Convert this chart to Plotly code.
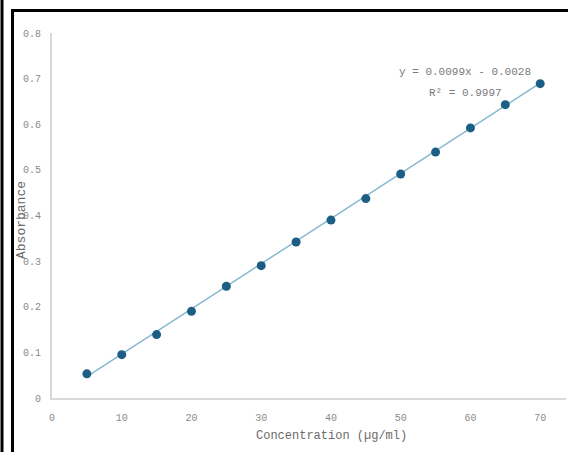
import plotly.graph_objects as go
import numpy as np

concentration = [5, 10, 15, 20, 25, 30, 35, 40, 45, 50, 55, 60, 65, 70]
absorbance = [0.053, 0.095, 0.139, 0.190, 0.245, 0.290, 0.342, 0.390, 0.437, 0.491, 0.539, 0.592, 0.643, 0.689]
slope = 0.0099
intercept = -0.0028
equation_text = "y = 0.0099x - 0.0028"
r2_text = "R² = 0.9997"
x_ticks = [0, 10, 20, 30, 40, 50, 60, 70]
y_ticks = [0, 0.1, 0.2, 0.3, 0.4, 0.5, 0.6, 0.7, 0.8]
y_tick_labels = ["0", "0.1", "0.2", "0.3", "0.4", "0.5", "0.6", "0.7", "0.8"]

W, H = 568, 452
L, R, T, B = 52, 2, 33, 54
pw, ph = W - L - R, H - T - B

def px(x):
    return (x - L) / pw

def py(y):
    return (H - B - y) / ph

fit_x = np.array([concentration[0], concentration[-1]])
fit_y = slope * fit_x + intercept

fig = go.Figure()
fig.add_trace(go.Scatter(x=fit_x, y=fit_y, mode="lines",
                         line=dict(color="#86b8d0", width=1.5),
                         hoverinfo="skip", showlegend=False))
fig.add_trace(go.Scatter(x=concentration, y=absorbance, mode="markers",
                         marker=dict(color="#1d5f84", size=9, symbol="circle"),
                         showlegend=False))

mono = "Liberation Mono, DejaVu Sans Mono, monospace"
ann = dict(xref="paper", yref="paper", showarrow=False, xanchor="center", yanchor="middle")
fig.update_layout(
    width=W, height=H,
    margin=dict(l=L, r=R, t=T, b=B, autoexpand=False),
    paper_bgcolor="white", plot_bgcolor="white",
    xaxis=dict(range=[0, 73.7], tickvals=x_ticks, showgrid=False, zeroline=False,
               showline=True, linecolor="#d9d9d9", linewidth=2, automargin=False,
               tickfont=dict(family=mono, size=10, color="#8a8a8a"),
               ticks="", ticklabelstandoff=9),
    yaxis=dict(range=[0, 0.8], tickvals=y_ticks, ticktext=y_tick_labels,
               showgrid=False, zeroline=False, automargin=False,
               showline=True, linecolor="#d9d9d9", linewidth=2,
               tickfont=dict(family=mono, size=10, color="#8a8a8a"),
               ticks="", ticklabelstandoff=7),
    annotations=[
        dict(text=equation_text, x=px(465), y=py(72),
             font=dict(family=mono, size=11, color="#7a7a7a"), **ann),
        dict(text=r2_text, x=px(465), y=py(93),
             font=dict(family=mono, size=11, color="#7a7a7a"), **ann),
        dict(text="Concentration (µg/ml)", x=px(331), y=py(436),
             font=dict(family=mono, size=12, color="#6a6a6a"), **ann),
        dict(text="Absorbance", x=px(21), y=py(220), textangle=-90,
             font=dict(family=mono, size=13, color="#6a6a6a"), **ann),
    ],
    shapes=[
        dict(type="line", xref="paper", yref="paper", x0=px(2), x1=px(2),
             y0=py(0), y1=py(H), line=dict(color="black", width=3)),
        dict(type="line", xref="paper", yref="paper", x0=px(12.5), x1=px(12.5),
             y0=py(9), y1=py(H), line=dict(color="black", width=3)),
        dict(type="line", xref="paper", yref="paper", x0=px(11), x1=px(W),
             y0=py(10.5), y1=py(10.5), line=dict(color="black", width=3)),
    ],
)

fig.write_html("out.html", config={"displayModeBar": False},
               post_script="document.body.style.margin='0';document.body.style.overflow='hidden';")
